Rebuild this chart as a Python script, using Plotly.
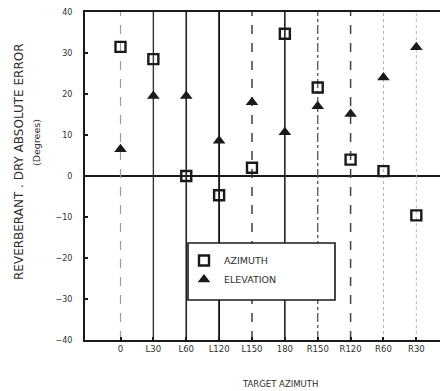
import plotly.graph_objects as go

# Target azimuth categories along the x axis
targets = ["0", "L30", "L60", "L120", "L150", "180", "R150", "R120", "R60", "R30"]

# Reverberant minus dry absolute error, degrees
azimuth_err = [31.5, 28.5, 0.0, -4.7, 2.0, 34.7, 21.6, 4.0, 1.2, -9.6]
elevation_err = [6.5, 19.5, 19.5, 8.6, 18.0, 10.7, 17.0, 15.1, 24.0, 31.4]

y_ticks = [-40, -30, -20, -10, 0, 10, 20, 30, 40]

# Drafting style of the vertical guide line at each target
guide_styles = [
    ("dash", "#9a9a9a", 1.2),
    ("solid", "#333333", 1.4),
    ("solid", "#222222", 1.6),
    ("solid", "#111111", 1.8),
    ("dash", "#333333", 1.4),
    ("solid", "#222222", 1.6),
    ("dashdot", "#555555", 1.3),
    ("dash", "#444444", 1.5),
    ("dot", "#b0b0b0", 1.0),
    ("dot", "#b8b8b8", 1.0),
]

xpos = list(range(1, len(targets) + 1))
ink = "#1a1a1a"
label_ink = "#2e2e2e"
font = "DejaVu Sans, Liberation Sans, sans-serif"

fig = go.Figure()

shapes = []
for x, (dash, col, w) in zip(xpos, guide_styles):
    shapes.append(dict(type="line", xref="x", yref="y", x0=x, x1=x, y0=-40, y1=40,
                       line=dict(color=col, width=w, dash=dash), layer="below"))
# zero reference line
shapes.append(dict(type="line", xref="paper", yref="y", x0=0, x1=1, y0=0, y1=0,
                   line=dict(color=ink, width=2), layer="below"))
# legend frame
shapes.append(dict(type="rect", xref="paper", yref="paper",
                   x0=(188 - 85) / 355, x1=(335 - 85) / 355,
                   y0=(340 - 300) / 328, y1=(340 - 243) / 328,
                   fillcolor="white", line=dict(color=ink, width=1.6), layer="above"))

fig.add_trace(go.Scatter(
    x=xpos, y=azimuth_err, mode="markers", name="AZIMUTH",
    marker=dict(symbol="square-open", size=10, color=ink, line=dict(width=2.4, color=ink)),
))
fig.add_trace(go.Scatter(
    x=xpos, y=elevation_err, mode="markers", name="ELEVATION",
    marker=dict(symbol="triangle-up", size=11, color=ink),
))

fig.update_layout(
    width=440, height=391,
    margin=dict(l=85, r=0, t=12, b=51),
    paper_bgcolor="white", plot_bgcolor="white",
    font=dict(family=font, size=9, color=ink),
    showlegend=True,
    legend=dict(x=(184 - 85) / 355, y=(340 - 246) / 328, xanchor="left", yanchor="top",
                bgcolor="rgba(0,0,0,0)", borderwidth=0,
                font=dict(size=9.5, family=font, color=label_ink), tracegroupgap=2),
    shapes=shapes,
    annotations=[
        dict(text="REVERBERANT . DRY ABSOLUTE ERROR", xref="paper", yref="paper",
             x=(19 - 85) / 355, y=(340 - 162) / 328, xanchor="center", yanchor="middle",
             textangle=-90, showarrow=False,
             font=dict(size=12, family=font, color=label_ink)),
        dict(text="(Degrees)", xref="paper", yref="paper",
             x=(36 - 85) / 355, y=(340 - 142) / 328, xanchor="center", yanchor="middle",
             textangle=-90, showarrow=False,
             font=dict(size=9.5, family=font, color=label_ink)),
        dict(text="TARGET AZIMUTH", xref="paper", yref="paper",
             x=(280 - 85) / 355, y=(340 - 384) / 328, xanchor="center", yanchor="middle",
             showarrow=False, font=dict(size=8.5, family=font, color=label_ink)),
    ],
)

fig.update_xaxes(
    range=[-0.08, 10.72], tickmode="array", tickvals=xpos, ticktext=targets,
    showgrid=False, zeroline=False, showline=True, linecolor=ink, linewidth=2,
    mirror=True, ticks="inside", ticklen=3, tickcolor=ink, tickwidth=2,
    tickfont=dict(size=8.5, family=font, color=label_ink),
)
fig.update_yaxes(
    range=[-40, 40], tickmode="array", tickvals=y_ticks,
    showgrid=False, zeroline=False, showline=True, linecolor=ink, linewidth=2,
    ticks="inside", ticklen=3, tickcolor=ink, tickwidth=2, ticklabelstandoff=9,
    tickfont=dict(size=8, family=font, color=label_ink),
)

fig.write_html("out.html")
